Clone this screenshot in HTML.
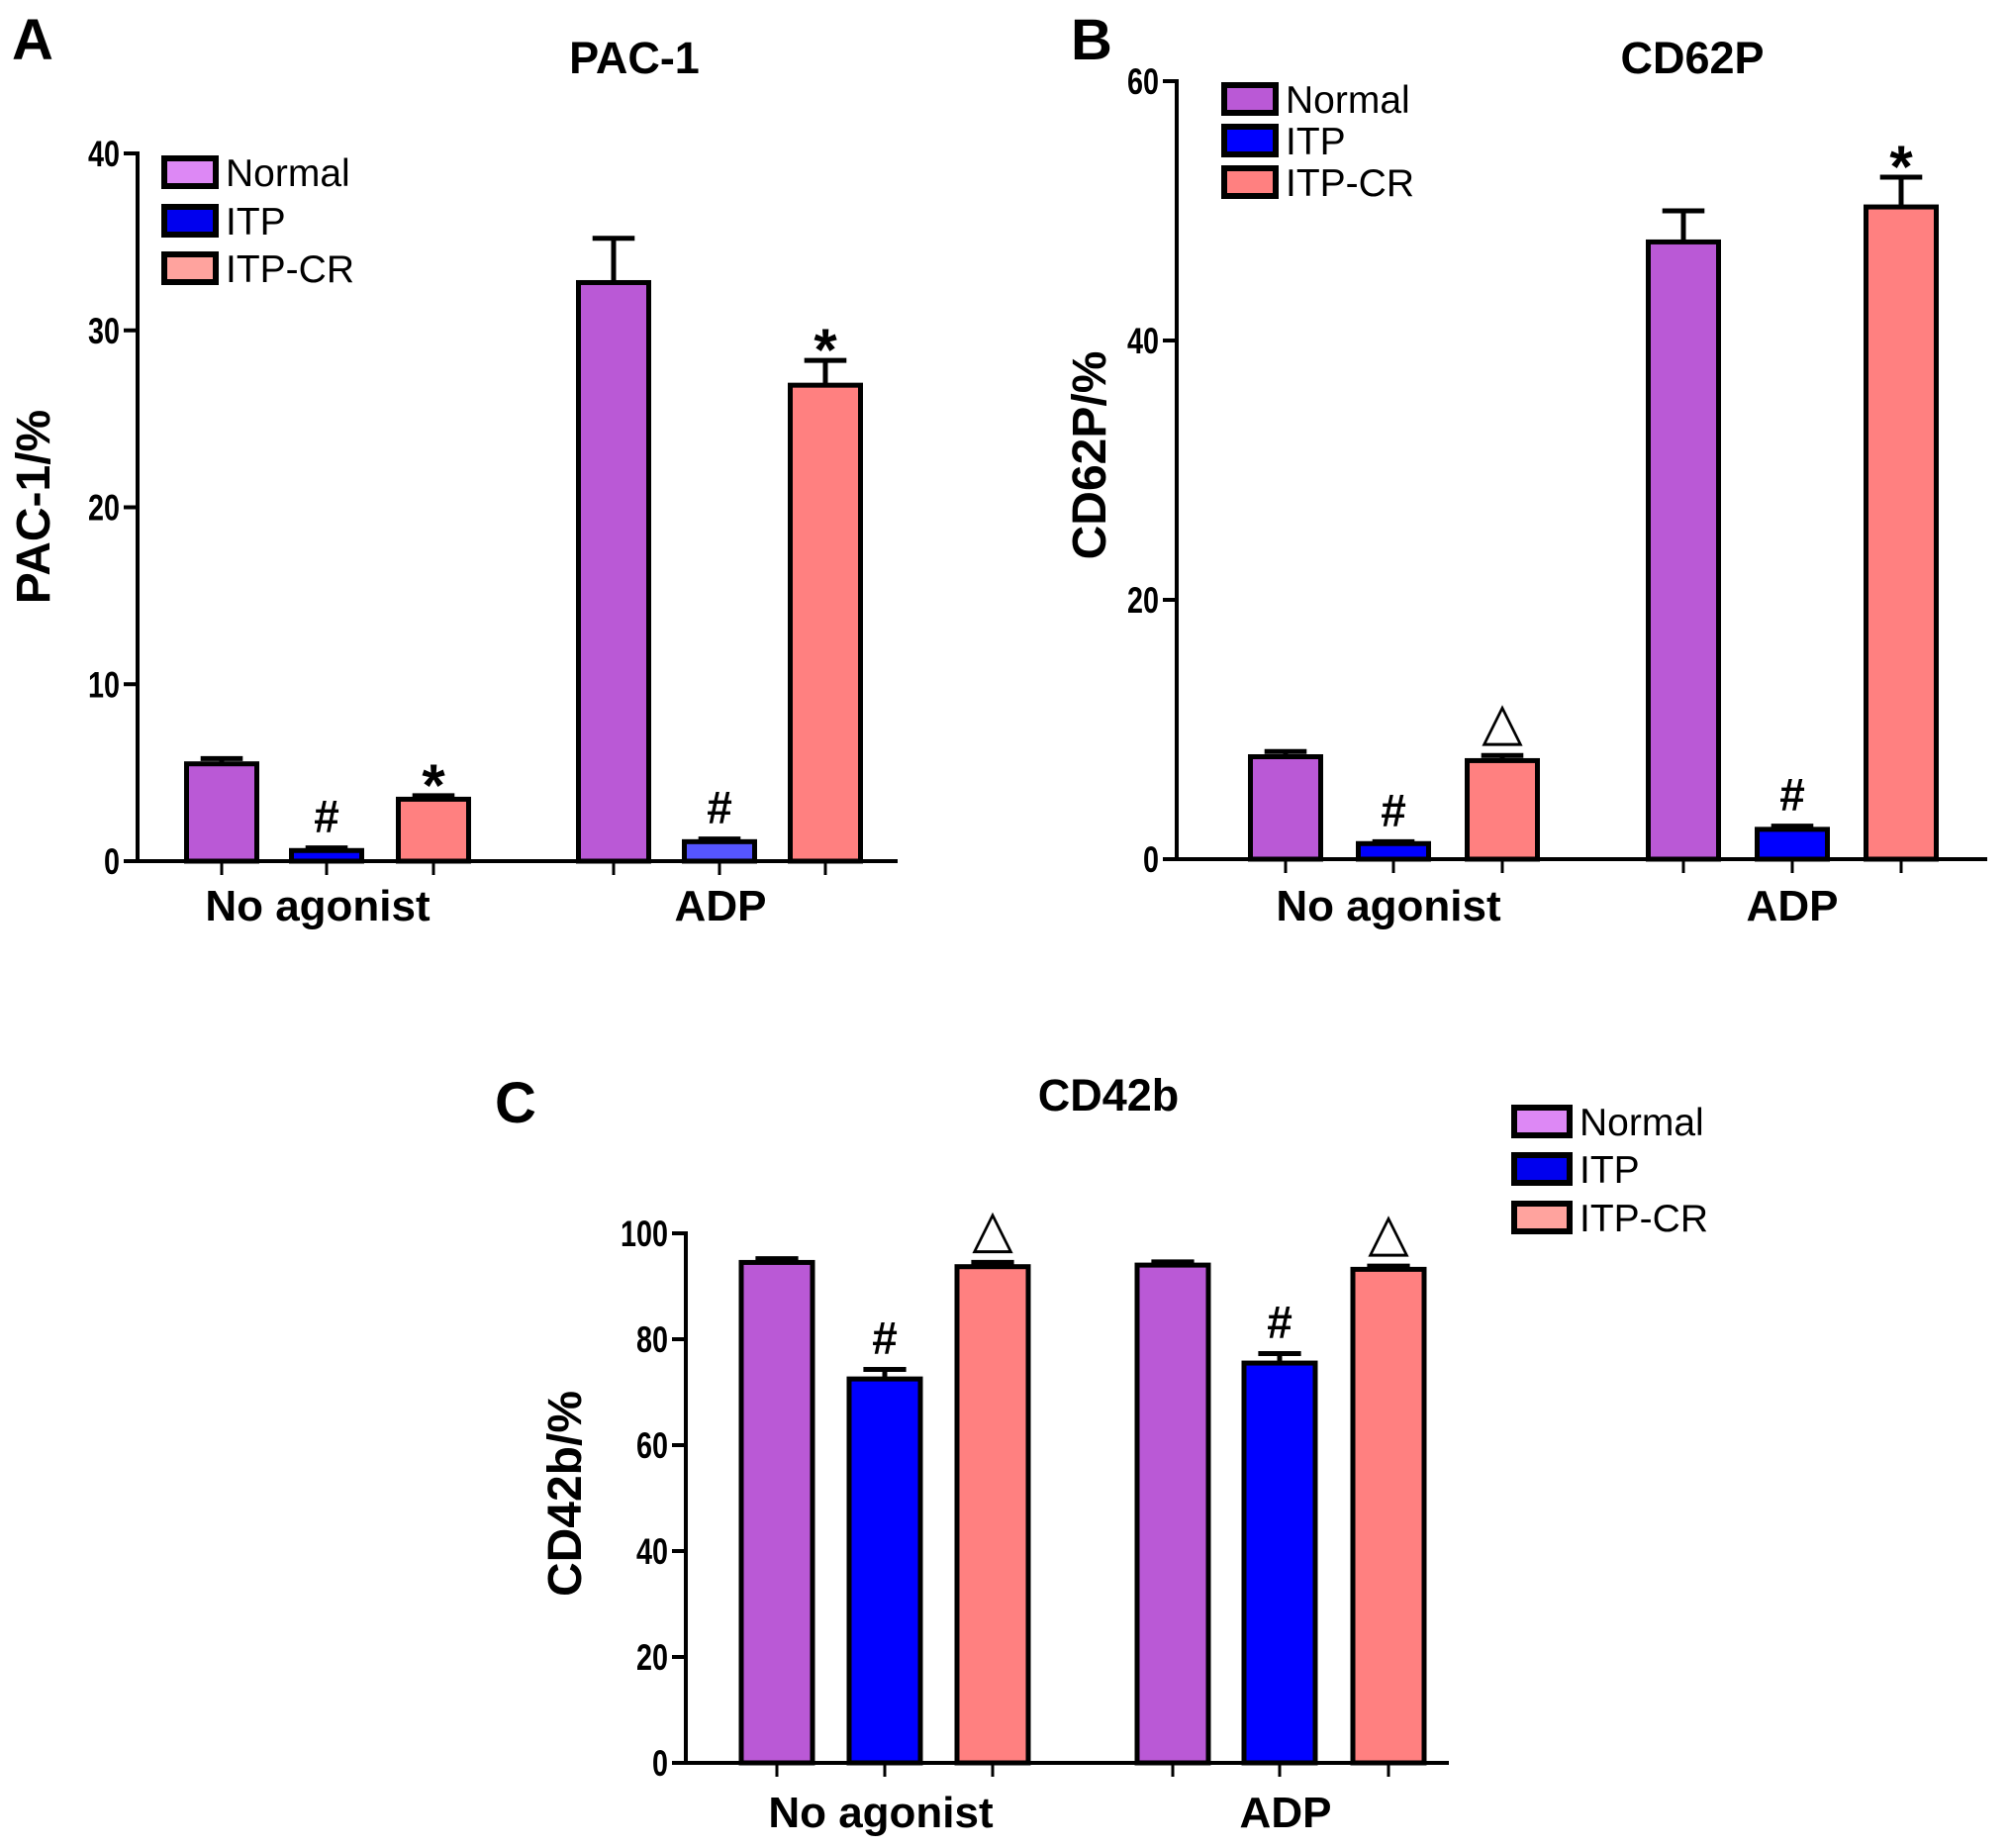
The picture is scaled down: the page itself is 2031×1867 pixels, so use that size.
<!DOCTYPE html>
<html><head><meta charset="utf-8"><style>
html,body{margin:0;padding:0;background:#fff;}
svg{display:block;}
text{font-family:"Liberation Sans",Arial,sans-serif;fill:#000;}
</style></head><body>
<svg id="fig" width="2031" height="1867" viewBox="0 0 2031 1867" xmlns="http://www.w3.org/2000/svg"></svg>
<script>
const groups = ["No agonist", "ADP"];
const seriesNames = ["Normal", "ITP", "ITP-CR"];
const aVals = [[5.5, 0.6, 3.5], [32.7, 1.1, 26.9]];
const aErr = [[0.3, 0.15, 0.2], [2.5, 0.15, 1.4]];
const aMarks = [["", "#", "*"], ["", "#", "*"]];
const aTicks = [0, 10, 20, 30, 40];
const bVals = [[7.9, 1.2, 7.6], [47.6, 2.3, 50.3]];
const bErr = [[0.4, 0.15, 0.4], [2.4, 0.25, 2.3]];
const bMarks = [["", "#", "△"], ["", "#", "*"]];
const bTicks = [0, 20, 40, 60];
const cVals = [[94.5, 72.5, 93.7], [94.0, 75.5, 93.2]];
const cErr = [[0.7, 1.8, 0.8], [0.6, 1.8, 0.6]];
const cMarks = [["", "#", "△"], ["", "#", "△"]];
const cTicks = [0, 20, 40, 60, 80, 100];

const NS = "http://www.w3.org/2000/svg";
const svg = document.getElementById("fig");
function mk(tag, attrs, parent, txt) {
  const e = document.createElementNS(NS, tag);
  for (const k in attrs) e.setAttribute(k, attrs[k]);
  if (txt !== undefined) e.textContent = txt;
  (parent || svg).appendChild(e);
  return e;
}

function panel(p) {
  const g = mk("g", {});
  
  
  const y = v => p.y0 - (v / p.max) * (p.y0 - p.yTop);
  const L = mk("text", {x: p.letterX, y: p.letterY, "font-size": 58, "font-weight": "bold"}, g, p.letter);
  
  
  const T = mk("text", {x: p.titleX, y: p.titleY, "font-size": 45, "font-weight": "bold", "text-anchor": "middle"}, g, p.title);
  
  
  const YL = mk("text", {x: 0, y: 0, "font-size": 48, "font-weight": "bold", "text-anchor": "middle", transform: `translate(${p.ylX},${p.ylY}) rotate(-90)`}, g, p.ylabel);
  
  
  const ya = mk("line", {x1: p.axX, y1: y(p.max) - 2, x2: p.axX, y2: p.y0 + 2, stroke: "#000", "stroke-width": 4}, g);
  
  
  const xa = mk("line", {x1: p.axX - 14, y1: p.y0, x2: p.axEnd, y2: p.y0, stroke: "#000", "stroke-width": 4}, g);
  
  
  p.ticks.forEach(t => {
    const tk = mk("line", {x1: p.axX - 14, y1: y(t), x2: p.axX, y2: y(t), stroke: "#000", "stroke-width": 4}, g);
    
    
    const tl = mk("text", {x: p.axX - 18, y: y(t) + 13, "font-size": 37, "font-weight": "bold", "text-anchor": "end", "textLength": String(t).length * 16, "lengthAdjust": "spacingAndGlyphs"}, g, t);
    
    
  });
  groups.forEach((gn, gi) => {
    p.vals[gi].forEach((v, si) => {
      const cx = p.centers[gi][si];
      const top = y(v);
      const et = y(v + p.err[gi][si]);
      const w = p.barW;
      const eb = mk("line", {x1: cx, y1: top, x2: cx, y2: et, stroke: "#000", "stroke-width": 5}, g);
      
      
      const ec = mk("line", {x1: cx - w * 0.3, y1: et, x2: cx + w * 0.3, y2: et, stroke: "#000", "stroke-width": 5}, g);
      
      
      const r = mk("rect", {x: cx - w / 2, y: top, width: w, height: p.y0 - top, fill: p.colors[gi][si], stroke: "#000", "stroke-width": 5}, g);
      
      
      const tk = mk("line", {x1: cx, y1: p.y0, x2: cx, y2: p.y0 + 14, stroke: "#000", "stroke-width": 3}, g);
      
      
      const m = p.marks[gi][si];
      if (m) {
        const tri = m === "△";
        const fs = tri ? 54 : (m === "*" ? 60 : 46);
        const an = mk("text", {x: cx, y: et - (m === "*" ? -10 : 16), "font-size": fs, "font-weight": tri ? "normal" : "bold", "text-anchor": "middle", "font-family": tri ? "DejaVu Sans, sans-serif" : "Liberation Sans, sans-serif"}, g, m);
        
        
      }
    });
    const xl = mk("text", {x: p.xlX[gi], y: p.xlY, "font-size": 44, "font-weight": "bold", "text-anchor": "middle"}, g, gn);
    
    
  });
  seriesNames.forEach((s, i) => {
    const ly = p.legY[i];
    const sw = mk("rect", {x: p.legX, y: ly - 14, width: p.legW, height: 28, fill: p.legColors[i], stroke: "#000", "stroke-width": 6}, g);
    
    
    const lt = mk("text", {x: p.legX + p.legW + 10, y: ly + 14, "font-size": 39}, g, s);
    
    
  });
}

const cA = ["#BA59D6", "#0000FF", "#FF8080"];
panel({id: "pac1", letter: "A", letterX: 12, letterY: 60, title: "PAC-1", titleX: 641, titleY: 74,
  ylabel: "PAC-1/%", ylX: 50, ylY: 512, axX: 139, axEnd: 907, y0: 870, yTop: 155, max: 40, ticks: aTicks,
  vals: aVals, err: aErr, marks: aMarks, barW: 71,
  centers: [[224, 330, 438], [620, 727, 834]],
  colors: [cA, ["#BA59D6", "#5555FF", "#FF8080"]],
  xlX: [321, 728], xlY: 930,
  legX: 166, legW: 52, legY: [174, 223, 271], legColors: ["#DD88F5", "#0000EE", "#FFA39E"]});
panel({id: "cd62p", letter: "B", letterX: 1082, letterY: 60, title: "CD62P", titleX: 1710, titleY: 74,
  ylabel: "CD62P/%", ylX: 1117, ylY: 460, axX: 1189, axEnd: 2008, y0: 868, yTop: 82, max: 60, ticks: bTicks,
  vals: bVals, err: bErr, marks: bMarks, barW: 71,
  centers: [[1299, 1408, 1518], [1701, 1811, 1921]],
  colors: [cA, cA],
  xlX: [1403, 1811], xlY: 930,
  legX: 1237, legW: 52, legY: [100, 142, 184], legColors: ["#BA59D6", "#0000FF", "#FF8080"]});
panel({id: "cd42b", letter: "C", letterX: 500, letterY: 1134, title: "CD42b", titleX: 1120, titleY: 1122,
  ylabel: "CD42b/%", ylX: 587, ylY: 1509, axX: 693, axEnd: 1464, y0: 1781, yTop: 1246, max: 100, ticks: cTicks,
  vals: cVals, err: cErr, marks: cMarks, barW: 72,
  centers: [[785, 894, 1003], [1185, 1293, 1403]],
  colors: [cA, cA],
  xlX: [890, 1299], xlY: 1846,
  legX: 1530, legW: 56, legY: [1133, 1181, 1230], legColors: ["#DD88F5", "#0000EE", "#FFA39E"]});
</script>
</body></html>
